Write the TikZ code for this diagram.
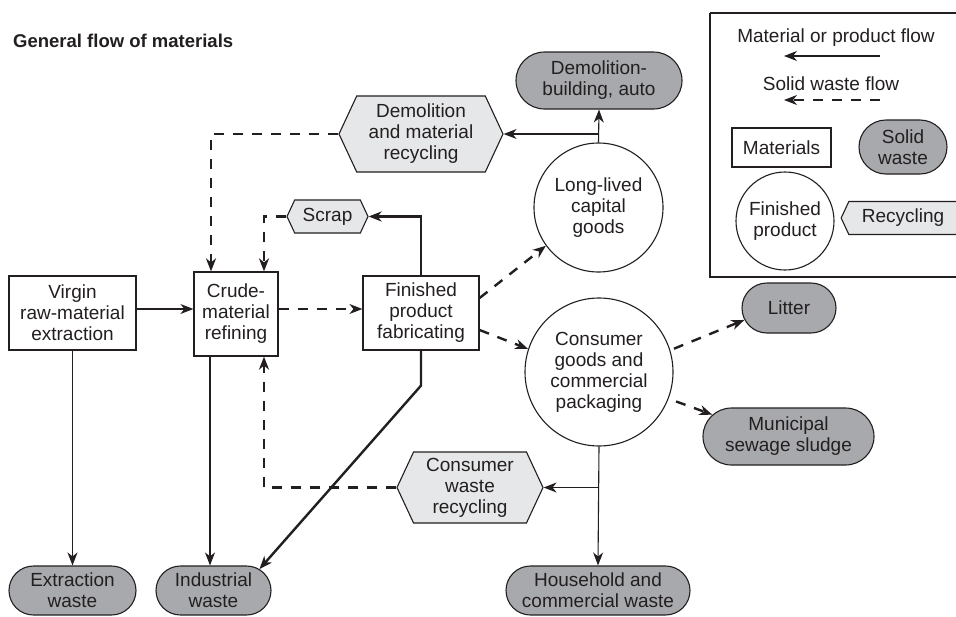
\documentclass[tikz,border=0pt]{standalone}
\usepackage{fontspec}
\setmainfont{Liberation Sans}
\usetikzlibrary{arrows.meta,shapes.misc,shapes.symbols,calc}
\definecolor{ink}{HTML}{231F20}
\definecolor{wastefill}{HTML}{A7A9AC}
\definecolor{recfill}{HTML}{E6E7E8}
\begin{document}
\begin{tikzpicture}[x=1pt,y=-1pt,
  every node/.style={text=ink,font=\fontsize{19}{21}\selectfont,align=center,inner sep=0pt},
  matbox/.style={draw=ink,line width=1.2pt,fill=white,rectangle},
  prodcirc/.style={draw=ink,line width=1.1pt,fill=white,circle},
  wastepill/.style={draw=ink,line width=1.1pt,fill=wastefill,rounded rectangle},
  rechex/.style={draw=ink,line width=1.1pt,fill=recfill,signal,signal to=west and east,signal pointer angle=130},
  flow/.style={draw=ink,line width=1.1pt,-{Stealth[length=13pt,width=10pt,inset=4pt]}},
  thickflow/.style={draw=ink,line width=2.4pt,-{Stealth[length=13pt,width=10pt,inset=4pt]}},
  wasteflow/.style={draw=ink,line width=2.4pt,dash pattern=on 10pt off 9pt,-{Stealth[length=13pt,width=10pt,inset=4pt]}},
  thinwaste/.style={draw=ink,line width=1.2pt,dash pattern=on 10pt off 9pt,-{Stealth[length=13pt,width=10pt,inset=4pt]}},
]
\clip (0,0) rectangle (956,616);
\fill[white] (0,0) rectangle (956,616);

% title
\node[anchor=west,font=\fontsize{18.5}{21}\selectfont\bfseries] (title) at (13,41) {General flow of materials};

% legend
\draw[ink,line width=1.2pt] (710,13) -- (990,13) (710,13) -- (710,277) -- (990,277);
\node (lg1) at (836,38) {Material or product flow};
\coordinate (la1) at (880,56);
\coordinate (lb1) at (784,56);
\draw[flow] (la1) -- (lb1);
\node (lg2) at (831,84) {Solid waste flow};
\coordinate (la2) at (880,100);
\coordinate (lb2) at (784,100);
\draw[thinwaste] (la2) -- (lb2);
\node[matbox,minimum width=99pt,minimum height=39pt] (lmat) at (781.5,147.5) {Materials};
\node[wastepill,minimum width=88pt,minimum height=54pt] (lsw) at (903,147) {Solid\\waste};
\node[prodcirc,minimum size=98pt] (lfp) at (785,221) {Finished\\product};
\node[draw=ink,line width=1.1pt,fill=recfill,signal,signal to=west,signal from=nowhere,signal pointer angle=130,minimum width=122pt,minimum height=33pt] (lrec) at (906,218) {Recycling\hspace*{6pt}};

% material boxes
\node[matbox,minimum width=127pt,minimum height=74pt] (virgin) at (72.5,313) {Virgin\\raw-material\\extraction};
\node[matbox,minimum width=84pt,minimum height=84pt] (crude) at (236,314) {Crude-\\material\\refining};
\node[matbox,minimum width=116pt,minimum height=74pt] (finished) at (421,313) {Finished\\product\\fabricating};

% recycling hexagons
\node[rechex,minimum width=81pt,minimum height=33pt] (scrap) at (327.5,216.5) {Scrap};
\node[rechex,minimum width=164pt,minimum height=76pt] (demrec) at (421,134) {Demolition\\and material\\recycling};
\node[rechex,minimum width=146pt,minimum height=71pt] (conrec) at (470,487.5) {Consumer\\waste\\recycling};

% product circles
\node[prodcirc,minimum size=129pt] (longlived) at (598.5,207.5) {Long-lived\\capital\\goods};
\node[prodcirc,minimum size=148pt] (consumer) at (599,372) {Consumer\\goods and\\commercial\\packaging};

% waste pills
\node[wastepill,minimum width=166pt,minimum height=57pt] (demob) at (599,80.5) {Demolition-\\building, auto};
\node[wastepill,minimum width=94pt,minimum height=50pt] (litter) at (789,308) {Litter};
\node[wastepill,minimum width=171pt,minimum height=57pt] (municipal) at (788.5,436.5) {Municipal\\sewage sludge};
\node[wastepill,minimum width=127pt,minimum height=49pt] (extraction) at (72.5,590.5) {Extraction\\waste};
\node[wastepill,minimum width=115pt,minimum height=49pt] (industrial) at (213.5,590.5) {Industrial\\waste};
\node[wastepill,minimum width=184pt,minimum height=49pt] (household) at (598,590.5) {Household and\\commercial waste};

% connectors
\draw[flow] ([yshift=4pt]virgin.east) -- ([yshift=4pt]virgin.east -| crude.west);
\draw[thinwaste] ([yshift=4pt]finished.west -| crude.east) -- ([yshift=4pt]finished.west);
\draw[flow] (virgin.south) -- (extraction.north);
\draw[flow] ([xshift=-26pt]crude.south) -- ([xshift=-26pt]crude.south |- industrial.north);
\draw[thickflow] (finished.south) -- ++(0,35) -- (industrial.25);
\draw[thickflow] (finished.north) |- (scrap.east);
\draw[wasteflow] (scrap.west) -| ([xshift=28pt]crude.north);
\draw[wasteflow] (demrec.west) -| ([xshift=-25pt]crude.north);
\draw[flow] (longlived.north) -- (demob.south);
\draw[flow] (longlived.north |- demrec.east) -- (demrec.east);
\draw[wasteflow] ([yshift=15pt]finished.east) -- (longlived.216);
\draw[wasteflow] ([yshift=-17pt]finished.east) -- (consumer.162);
\draw[wasteflow,shorten <=4pt] (consumer.17) -- (litter.195);
\draw[wasteflow,shorten <=8pt] (consumer.-21) -- (municipal.164);
\draw[flow] (consumer.south) -- (household.north);
\draw[flow] (consumer.south |- conrec.east) -- (conrec.east);
\draw[wasteflow] (conrec.west) -| ([xshift=28pt]crude.south);
\end{tikzpicture}
\end{document}
